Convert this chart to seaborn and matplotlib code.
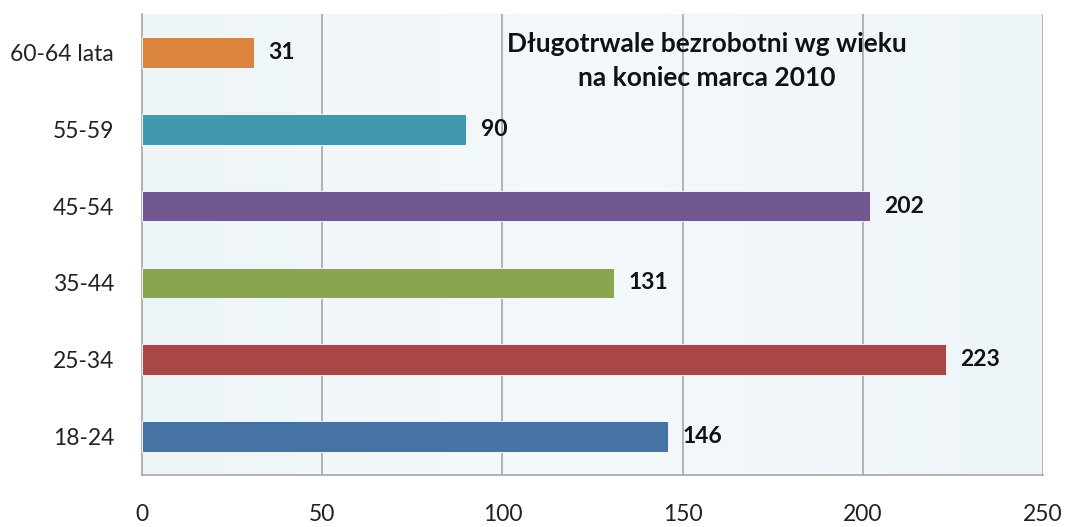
import matplotlib
matplotlib.use("Agg")
import matplotlib.pyplot as plt
import seaborn as sns
import pandas as pd
import numpy as np
from matplotlib.colors import LinearSegmentedColormap

categories = ["60-64 lata", "55-59", "45-54", "35-44", "25-34", "18-24"]
values = [31, 90, 202, 131, 223, 146]
colors = ["#DB843D", "#4198AF", "#71588F", "#89A54E", "#A94646", "#4672A4"]
title_lines = ["Długotrwale bezrobotni wg wieku", "na koniec marca 2010"]
xticks = [0, 50, 100, 150, 200, 250]

sns.set_theme(style="white")
plt.rcParams["font.family"] = ["Lato", "DejaVu Sans"]

df = pd.DataFrame({"cat": categories, "val": values})

fig = plt.figure(figsize=(10.65, 5.27), dpi=100)
ax = fig.add_axes([0.1333, 0.0987, 0.8460, 0.8747])

# light gradient background
grad = np.linspace(0, 1, 256).reshape(1, -1)
cmap = LinearSegmentedColormap.from_list("bg", ["#eef5f8", "#f4f9fb", "#eef5f8"])
ax.imshow(grad, extent=[0, 1, 0, 1], transform=ax.transAxes, cmap=cmap,
          aspect="auto", zorder=0, interpolation="bilinear")

sns.barplot(data=df, y="cat", x="val", hue="cat", palette=colors, order=categories,
            hue_order=categories, orient="h", width=0.4, legend=False, saturation=1,
            edgecolor="white", linewidth=0.6, ax=ax, zorder=3)

ax.set_xlim(0, 250)
ax.set_ylim(len(categories) - 0.5, -0.5)
ax.set_xticks(xticks)
ax.set_xticklabels([str(t) for t in xticks], fontsize=16.5, color="#222222")
ax.set_yticks(range(len(categories)))
ax.set_yticklabels(categories, fontsize=16.5, color="#222222")
ax.set_xlabel("")
ax.set_ylabel("")

for t in xticks[1:]:
    ax.axvline(t, color="#a6a6a6", linewidth=1.2, zorder=1)

for s in ["top", "right"]:
    ax.spines[s].set_visible(False)
for s in ["left", "bottom"]:
    ax.spines[s].set_color("#a6a6a6")
    ax.spines[s].set_linewidth(1.2)

ax.tick_params(axis="x", length=8, color="#a6a6a6", width=1.2, direction="out", pad=13)
ax.tick_params(axis="y", length=0, pad=20)
ax.set_yticks(np.arange(-0.5, len(categories) - 0.4, 1), minor=True)
ax.tick_params(axis="y", which="minor", length=8, color="#a6a6a6", width=1.2, direction="out")

for i, v in enumerate(values):
    ax.text(v + 4, i, str(v), va="center", ha="left", fontsize=16.5,
            fontweight="bold", color="#111111", zorder=4)

ax.text(0.627, 0.899, title_lines[0] + "\n" + title_lines[1], transform=ax.transAxes,
        ha="center", va="center", fontsize=19, fontweight="bold", color="#111111",
        linespacing=1.5, zorder=4)

fig.savefig("out.png", dpi=100)
